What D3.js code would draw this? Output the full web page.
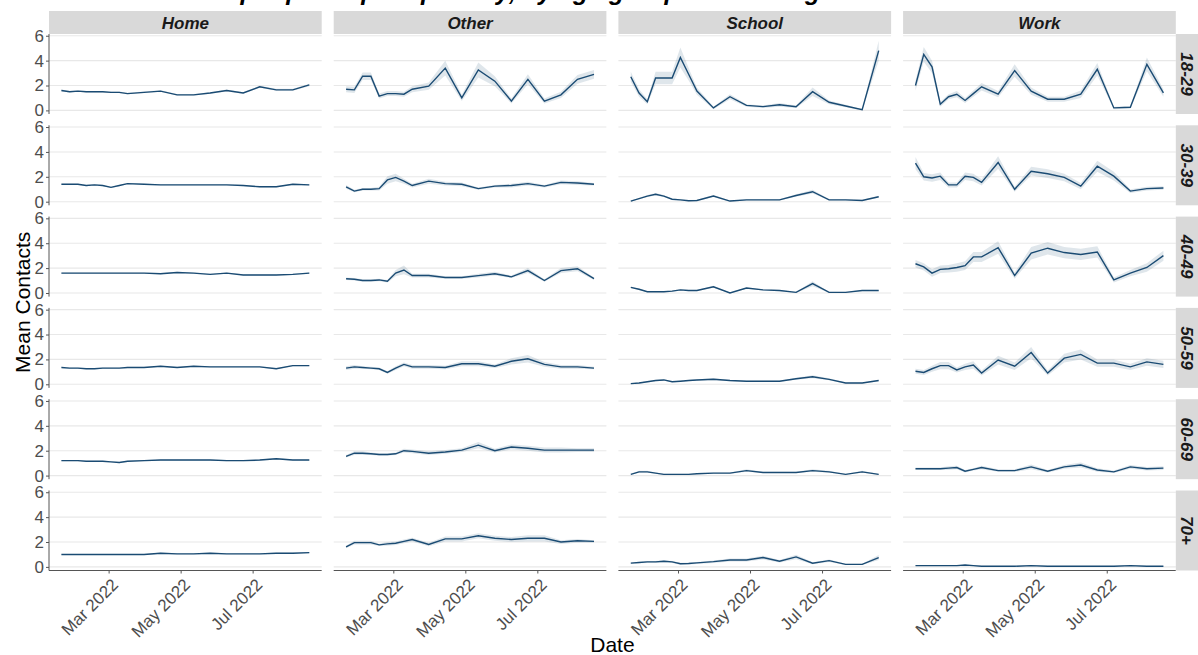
<!DOCTYPE html>
<html lang="en">
<head>
  <meta charset="UTF-8">
  <title>Mean contacts by setting and age group</title>
  <script src="https://cdn.jsdelivr.net/npm/d3@7/dist/d3.min.js"></script>
  <style>
    body { margin: 0; background: #fff; }
    text { font-family: "Liberation Sans", Arial, sans-serif; }
  </style>
</head>
<body>
  <svg width="1198" height="655"></svg>
  <script>
    // survey dates (weekly at first, then every two weeks)
    var dates = ["2022-01-20", "2022-01-27", "2022-02-03", "2022-02-10", "2022-02-17", "2022-02-24",
      "2022-03-03", "2022-03-10", "2022-03-17", "2022-03-31", "2022-04-14", "2022-04-28",
      "2022-05-12", "2022-05-26", "2022-06-09", "2022-06-23", "2022-07-07", "2022-07-21",
      "2022-08-04", "2022-08-18"];
    var settings = ["Home", "Other", "School", "Work"];
    var ageGroups = ["18-29", "30-39", "40-49", "50-59", "60-69", "70+"];
    var yTicks = [0, 2, 4, 6];
    var xTicks = ["2022-03-01", "2022-05-01", "2022-07-01"];

    // mean contacts, one row per age group
    var home = [
      [1.6, 1.5, 1.55, 1.5, 1.5, 1.5, 1.45, 1.45, 1.35, 1.45, 1.55, 1.25, 1.25, 1.4, 1.6, 1.4, 1.9, 1.65, 1.65, 2.05],
      [1.4, 1.4, 1.4, 1.3, 1.35, 1.3, 1.15, 1.3, 1.45, 1.4, 1.35, 1.35, 1.35, 1.35, 1.35, 1.3, 1.2, 1.2, 1.4, 1.35],
      [1.6, 1.6, 1.6, 1.6, 1.6, 1.6, 1.6, 1.6, 1.6, 1.6, 1.55, 1.65, 1.6, 1.5, 1.6, 1.45, 1.45, 1.45, 1.5, 1.6],
      [1.35, 1.3, 1.3, 1.25, 1.25, 1.3, 1.3, 1.3, 1.35, 1.35, 1.45, 1.35, 1.45, 1.4, 1.4, 1.4, 1.4, 1.25, 1.5, 1.5],
      [1.2, 1.2, 1.2, 1.15, 1.15, 1.15, 1.1, 1.05, 1.15, 1.2, 1.25, 1.25, 1.25, 1.25, 1.2, 1.2, 1.25, 1.35, 1.25, 1.25],
      [1.0, 1.0, 1.0, 1.0, 1.0, 1.0, 1.0, 1.0, 1.0, 1.0, 1.1, 1.05, 1.05, 1.1, 1.05, 1.05, 1.05, 1.1, 1.1, 1.15]
    ];
    var other = [
      [1.7, 1.65, 2.75, 2.75, 1.15, 1.35, 1.35, 1.3, 1.7, 1.95, 3.4, 1.0, 3.25, 2.35, 0.75, 2.5, 0.75, 1.25, 2.5, 2.9],
      [1.2, 0.85, 1.0, 1.0, 1.05, 1.75, 1.95, 1.65, 1.3, 1.65, 1.45, 1.4, 1.05, 1.25, 1.3, 1.45, 1.25, 1.55, 1.5, 1.4],
      [1.15, 1.1, 1.0, 1.0, 1.05, 0.95, 1.6, 1.85, 1.4, 1.4, 1.25, 1.25, 1.4, 1.55, 1.3, 1.8, 1.0, 1.8, 1.95, 1.15],
      [1.3, 1.4, 1.35, 1.3, 1.25, 0.95, 1.3, 1.6, 1.4, 1.4, 1.35, 1.65, 1.65, 1.45, 1.85, 2.05, 1.6, 1.4, 1.4, 1.3],
      [1.55, 1.8, 1.8, 1.75, 1.7, 1.7, 1.75, 2.0, 1.95, 1.8, 1.9, 2.05, 2.45, 2.0, 2.3, 2.2, 2.05, 2.05, 2.05, 2.05],
      [1.6, 1.95, 1.95, 1.95, 1.77, 1.85, 1.9, 2.05, 2.2, 1.8, 2.25, 2.25, 2.5, 2.3, 2.2, 2.3, 2.3, 2.0, 2.1, 2.05]
    ];
    var school = [
      [2.7, 1.4, 0.7, 2.6, 2.6, 2.6, 4.25, 2.9, 1.55, 0.2, 1.1, 0.4, 0.3, 0.45, 0.3, 1.5, 0.65, 0.35, 0.05, 4.8],
      [0.05, 0.25, 0.45, 0.6, 0.45, 0.2, 0.15, 0.08, 0.1, 0.45, 0.05, 0.15, 0.15, 0.15, 0.5, 0.8, 0.15, 0.15, 0.1, 0.4],
      [0.45, 0.3, 0.1, 0.1, 0.1, 0.15, 0.25, 0.2, 0.2, 0.5, 0.0, 0.4, 0.25, 0.2, 0.05, 0.75, 0.05, 0.05, 0.2, 0.2],
      [0.05, 0.1, 0.2, 0.3, 0.35, 0.2, 0.25, 0.3, 0.35, 0.4, 0.3, 0.25, 0.25, 0.25, 0.45, 0.6, 0.4, 0.1, 0.1, 0.3],
      [0.1, 0.3, 0.3, 0.2, 0.1, 0.1, 0.1, 0.1, 0.15, 0.2, 0.2, 0.4, 0.25, 0.25, 0.25, 0.4, 0.3, 0.1, 0.3, 0.1],
      [0.3, 0.35, 0.4, 0.4, 0.45, 0.4, 0.25, 0.27, 0.32, 0.42, 0.55, 0.55, 0.75, 0.45, 0.8, 0.3, 0.5, 0.2, 0.2, 0.75]
    ];
    var work = [
      [2.0, 4.5, 3.5, 0.5, 1.1, 1.3, 0.8, 1.35, 1.9, 1.3, 3.2, 1.55, 0.9, 0.9, 1.3, 3.3, 0.2, 0.25, 3.7, 1.4],
      [3.1, 2.0, 1.9, 2.05, 1.35, 1.35, 2.05, 1.95, 1.55, 3.15, 1.0, 2.45, 2.25, 1.95, 1.25, 2.85, 2.05, 0.85, 1.05, 1.1],
      [2.35, 2.1, 1.6, 1.9, 1.95, 2.05, 2.2, 2.9, 2.9, 3.65, 1.4, 3.2, 3.6, 3.25, 3.1, 3.3, 1.05, 1.6, 2.05, 3.0],
      [1.05, 0.95, 1.25, 1.5, 1.5, 1.15, 1.4, 1.55, 0.9, 1.95, 1.45, 2.55, 0.9, 2.1, 2.4, 1.7, 1.7, 1.4, 1.8, 1.6],
      [0.55, 0.55, 0.55, 0.55, 0.6, 0.65, 0.35, 0.5, 0.65, 0.4, 0.4, 0.7, 0.35, 0.7, 0.85, 0.45, 0.3, 0.7, 0.55, 0.6],
      [0.1, 0.1, 0.1, 0.1, 0.1, 0.1, 0.15, 0.1, 0.05, 0.05, 0.05, 0.1, 0.05, 0.05, 0.05, 0.05, 0.05, 0.1, 0.05, 0.05]
    ];

    // half width of the confidence band
    var homeCI = [
      [0.08, 0.06, 0.06, 0.06, 0.06, 0.06, 0.06, 0.06, 0.06, 0.06, 0.06, 0.06, 0.06, 0.06, 0.08, 0.06, 0.08, 0.08, 0.08, 0.1],
      [0.05, 0.05, 0.05, 0.05, 0.05, 0.05, 0.05, 0.05, 0.05, 0.05, 0.05, 0.05, 0.05, 0.05, 0.05, 0.05, 0.05, 0.05, 0.05, 0.05],
      [0.05, 0.05, 0.05, 0.05, 0.05, 0.05, 0.05, 0.05, 0.05, 0.05, 0.05, 0.05, 0.05, 0.05, 0.05, 0.05, 0.05, 0.05, 0.05, 0.05],
      [0.05, 0.05, 0.05, 0.05, 0.05, 0.05, 0.05, 0.05, 0.05, 0.05, 0.05, 0.05, 0.05, 0.05, 0.05, 0.05, 0.05, 0.05, 0.05, 0.05],
      [0.05, 0.05, 0.05, 0.05, 0.05, 0.05, 0.05, 0.05, 0.05, 0.05, 0.05, 0.05, 0.05, 0.05, 0.05, 0.05, 0.05, 0.06, 0.05, 0.05],
      [0.04, 0.04, 0.04, 0.04, 0.04, 0.04, 0.04, 0.04, 0.04, 0.04, 0.05, 0.05, 0.05, 0.05, 0.05, 0.05, 0.05, 0.05, 0.05, 0.05]
    ];
    var otherCI = [
      [0.25, 0.25, 0.3, 0.3, 0.2, 0.2, 0.2, 0.2, 0.25, 0.3, 0.6, 0.25, 0.6, 0.4, 0.2, 0.4, 0.2, 0.25, 0.35, 0.35],
      [0.15, 0.1, 0.1, 0.1, 0.15, 0.3, 0.3, 0.2, 0.15, 0.2, 0.15, 0.15, 0.1, 0.1, 0.15, 0.15, 0.1, 0.15, 0.15, 0.1],
      [0.1, 0.1, 0.1, 0.1, 0.1, 0.1, 0.25, 0.35, 0.15, 0.15, 0.1, 0.1, 0.15, 0.15, 0.1, 0.2, 0.1, 0.2, 0.2, 0.1],
      [0.15, 0.15, 0.1, 0.1, 0.1, 0.1, 0.15, 0.15, 0.15, 0.15, 0.15, 0.2, 0.2, 0.15, 0.25, 0.3, 0.2, 0.15, 0.15, 0.1],
      [0.1, 0.15, 0.15, 0.1, 0.1, 0.1, 0.1, 0.15, 0.15, 0.15, 0.15, 0.15, 0.25, 0.15, 0.2, 0.2, 0.2, 0.2, 0.15, 0.15],
      [0.1, 0.15, 0.15, 0.15, 0.1, 0.15, 0.15, 0.15, 0.15, 0.15, 0.2, 0.2, 0.2, 0.2, 0.2, 0.25, 0.25, 0.15, 0.15, 0.1]
    ];
    var schoolCI = [
      [0.4, 0.3, 0.2, 0.5, 0.5, 0.5, 0.8, 0.5, 0.3, 0.1, 0.2, 0.1, 0.1, 0.15, 0.1, 0.35, 0.15, 0.1, 0.05, 0.8],
      [0.05, 0.05, 0.08, 0.1, 0.08, 0.05, 0.05, 0.05, 0.05, 0.08, 0.05, 0.05, 0.05, 0.05, 0.1, 0.15, 0.05, 0.05, 0.05, 0.08],
      [0.05, 0.05, 0.05, 0.05, 0.05, 0.05, 0.05, 0.05, 0.05, 0.08, 0.03, 0.05, 0.05, 0.05, 0.03, 0.2, 0.03, 0.03, 0.05, 0.05],
      [0.03, 0.05, 0.05, 0.05, 0.05, 0.05, 0.05, 0.05, 0.05, 0.08, 0.05, 0.05, 0.05, 0.05, 0.08, 0.12, 0.08, 0.05, 0.05, 0.05],
      [0.03, 0.08, 0.08, 0.05, 0.05, 0.05, 0.05, 0.05, 0.05, 0.05, 0.05, 0.1, 0.05, 0.05, 0.05, 0.1, 0.08, 0.03, 0.08, 0.03],
      [0.05, 0.05, 0.08, 0.08, 0.08, 0.08, 0.08, 0.08, 0.08, 0.1, 0.12, 0.12, 0.15, 0.1, 0.18, 0.08, 0.1, 0.05, 0.05, 0.2]
    ];
    var workCI = [
      [0.4, 0.6, 0.5, 0.2, 0.2, 0.25, 0.2, 0.25, 0.3, 0.25, 0.5, 0.3, 0.2, 0.2, 0.3, 0.5, 0.1, 0.1, 0.55, 0.3],
      [0.5, 0.3, 0.3, 0.3, 0.2, 0.2, 0.3, 0.3, 0.25, 0.5, 0.2, 0.35, 0.35, 0.3, 0.25, 0.45, 0.35, 0.15, 0.15, 0.15],
      [0.3, 0.3, 0.3, 0.3, 0.3, 0.35, 0.35, 0.4, 0.4, 0.5, 0.25, 0.5, 0.5, 0.45, 0.45, 0.45, 0.2, 0.25, 0.35, 0.4],
      [0.2, 0.2, 0.25, 0.3, 0.3, 0.2, 0.25, 0.3, 0.2, 0.35, 0.3, 0.45, 0.2, 0.35, 0.4, 0.3, 0.3, 0.25, 0.3, 0.3],
      [0.1, 0.1, 0.1, 0.1, 0.15, 0.15, 0.1, 0.1, 0.15, 0.1, 0.1, 0.2, 0.1, 0.15, 0.2, 0.15, 0.1, 0.15, 0.15, 0.15],
      [0.03, 0.03, 0.03, 0.03, 0.03, 0.03, 0.03, 0.03, 0.03, 0.03, 0.03, 0.03, 0.03, 0.03, 0.03, 0.03, 0.03, 0.03, 0.03, 0.03]
    ];

    var means = [home, other, school, work];
    var bands = [homeCI, otherCI, schoolCI, workCI];

    var svg = d3.select("svg");
    var parse = d3.timeParse("%Y-%m-%d");
    var days = dates.map(parse);

    // facet layout
    var panelLeft = 49, panelTop = 34;
    var panelW = 272.7, panelH = 80;
    var colStep = 284.7, rowStep = 91.3;
    var stripH = 23;

    var lineColor = "#1a4b73";
    var tickFont = "17px";

    // x: 5% padding each side like ggplot
    var t0 = days[0], t1 = days[days.length - 1];
    var pad = (t1 - t0) * 0.05;
    var x = d3.scaleTime()
      .domain([new Date(+t0 - pad), new Date(+t1 + pad)])
      .range([0, panelW]);
    var y = d3.scaleLinear()
      .domain([-0.29, 6.14])
      .range([panelH, 0]);

    var line = d3.line()
      .x(function (d) { return x(d.date); })
      .y(function (d) { return y(d.v); });
    var area = d3.area()
      .x(function (d) { return x(d.date); })
      .y0(function (d) { return y(Math.max(0, d.v - d.ci)); })
      .y1(function (d) { return y(d.v + d.ci); });

    // title (mostly cut off at the top in the original)
    svg.append("text")
      .attr("x", 440).attr("y", 0)
      .attr("text-anchor", "middle")
      .style("font-size", "25px")
      .style("font-weight", "bold")
      .style("font-style", "italic")
      .text("Mean contacts per participant per day, by age group and setting");

    settings.forEach(function (s, c) {
      // column strip
      var sx = panelLeft + c * colStep;
      svg.append("rect")
        .attr("x", sx).attr("y", panelTop - stripH)
        .attr("width", panelW).attr("height", stripH)
        .attr("fill", "#d9d9d9");
      svg.append("text")
        .attr("x", sx + panelW / 2).attr("y", panelTop - stripH / 2)
        .attr("dy", "0.36em")
        .attr("text-anchor", "middle")
        .style("font-size", "17px")
        .style("font-weight", "bold")
        .style("font-style", "italic")
        .attr("fill", "#1a1a1a")
        .text(s);

      ageGroups.forEach(function (a, r) {
        var py = panelTop + r * rowStep;
        var g = svg.append("g")
          .attr("transform", "translate(" + sx + "," + py + ")");

        // gridlines
        g.selectAll(".grid")
          .data(yTicks)
          .enter()
          .append("line")
          .attr("x1", 0).attr("x2", panelW)
          .attr("y1", function (d) { return y(d); })
          .attr("y2", function (d) { return y(d); })
          .attr("stroke", "#e8e8e8")
          .attr("stroke-width", 1.1);

        var pts = days.map(function (d, i) {
          return { date: d, v: means[c][r][i], ci: bands[c][r][i] };
        });

        g.append("path")
          .attr("d", area(pts))
          .attr("fill", lineColor)
          .attr("fill-opacity", 0.14);
        g.append("path")
          .attr("d", line(pts))
          .attr("fill", "none")
          .attr("stroke", lineColor)
          .attr("stroke-width", 1.4);

        // y axis on first column
        if (c === 0) {
          var ya = g.append("g")
            .call(d3.axisLeft(y).tickValues(yTicks).tickFormat(d3.format("d"))
              .tickSize(3).tickPadding(2));
          ya.select(".domain").attr("stroke", "#555").attr("d", "M0," + panelH + "V0");
          ya.selectAll(".tick line").attr("stroke", "#555");
          ya.selectAll(".tick text")
            .attr("fill", "#4d4d4d")
            .style("font-size", tickFont)
            .style("font-family", "'Liberation Sans', Arial, sans-serif");
        }

        // x axis on last row
        if (r === ageGroups.length - 1) {
          var xa = g.append("g")
            .attr("transform", "translate(0," + panelH + ")")
            .call(d3.axisBottom(x).tickValues(xTicks.map(parse))
              .tickFormat(d3.timeFormat("%b %Y")).tickSize(3));
          xa.select(".domain").attr("stroke", "#555").attr("d", "M0,0H" + panelW);
          xa.selectAll(".tick line").attr("stroke", "#555");
          xa.selectAll(".tick text")
            .attr("fill", "#4d4d4d")
            .style("font-size", tickFont)
            .style("font-family", "'Liberation Sans', Arial, sans-serif")
            .attr("text-anchor", "end")
            .attr("y", 0).attr("dy", 0)
            .attr("transform", "translate(1,6) rotate(-45) translate(0,13)");
        }

        // row strip on last column
        if (c === settings.length - 1) {
          var rx = sx + panelW;
          svg.append("rect")
            .attr("x", rx).attr("y", py)
            .attr("width", stripH).attr("height", panelH)
            .attr("fill", "#d9d9d9");
          svg.append("text")
            .attr("transform", "translate(" + (rx + stripH / 2) + "," + (py + panelH / 2) + ") rotate(90)")
            .attr("dy", "0.36em")
            .attr("text-anchor", "middle")
            .style("font-size", "17px")
            .style("font-weight", "bold")
            .style("font-style", "italic")
            .attr("fill", "#1a1a1a")
            .text(a);
        }
      });
    });

    // axis titles
    svg.append("text")
      .attr("transform", "translate(30," + (panelTop + (5 * rowStep + panelH) / 2) + ") rotate(-90)")
      .attr("text-anchor", "middle")
      .style("font-size", "21px")
      .text("Mean Contacts");
    svg.append("text")
      .attr("x", panelLeft + (3 * colStep + panelW) / 2).attr("y", 652)
      .attr("text-anchor", "middle")
      .style("font-size", "21px")
      .text("Date");
  </script>
</body>
</html>
